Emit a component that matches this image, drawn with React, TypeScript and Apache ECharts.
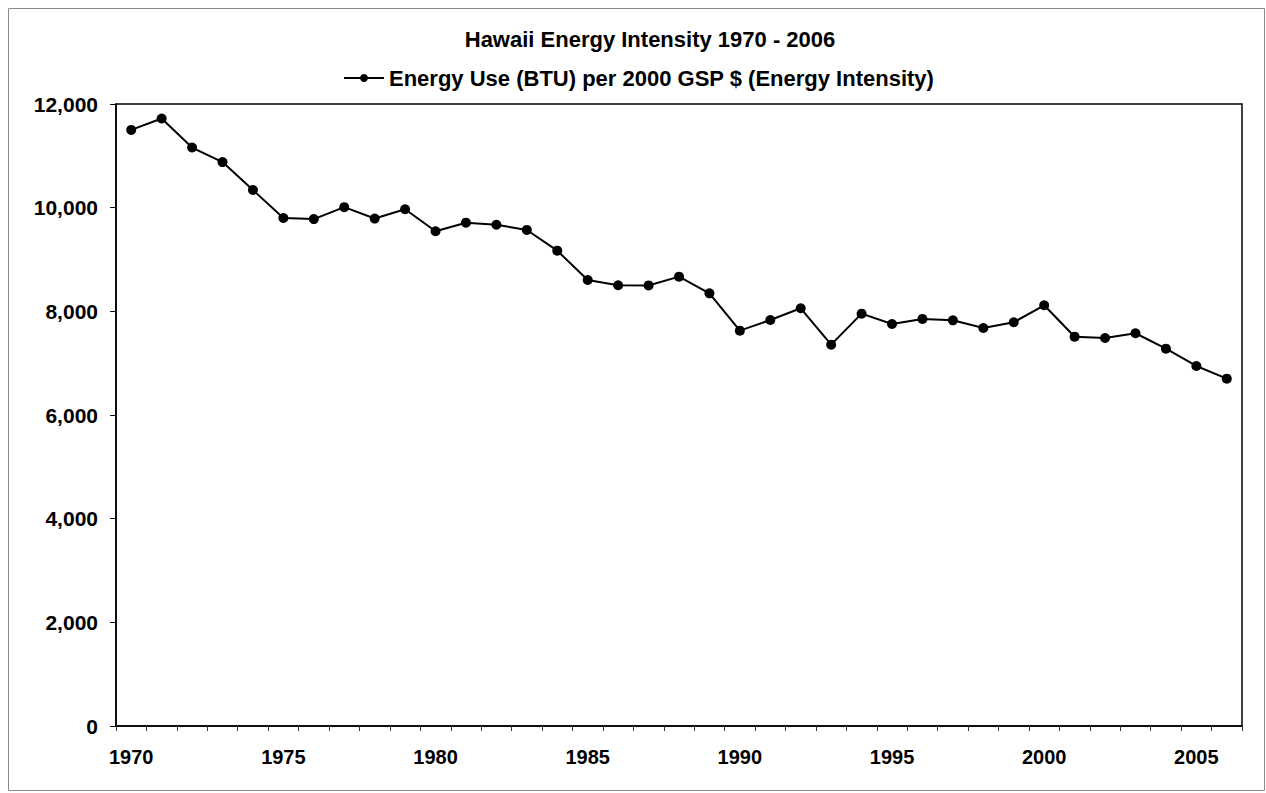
import React, { useEffect, useRef } from "react";
import * as echarts from "echarts";

const years: string[] = [
  "1970", "1971", "1972", "1973", "1974", "1975", "1976", "1977", "1978", "1979",
  "1980", "1981", "1982", "1983", "1984", "1985", "1986", "1987", "1988", "1989",
  "1990", "1991", "1992", "1993", "1994", "1995", "1996", "1997", "1998", "1999",
  "2000", "2001", "2002", "2003", "2004", "2005", "2006",
];

const energyIntensity: number[] = [
  11500, 11720, 11160, 10880, 10340, 9800, 9780, 10010, 9790, 9970,
  9545, 9710, 9670, 9570, 9170, 8605, 8503, 8500, 8669, 8348,
  7627, 7833, 8059, 7357, 7955, 7756, 7853, 7827, 7679, 7789,
  8117, 7511, 7486, 7577, 7280, 6946, 6701,
];

const titleText = "Hawaii Energy Intensity 1970 - 2006";
const seriesName = "Energy Use (BTU) per 2000 GSP $ (Energy Intensity)";

const FONT = "'Liberation Sans', Arial, sans-serif";

export default function App() {
  const ref = useRef<HTMLDivElement>(null);

  useEffect(() => {
    if (!ref.current) return;
    const chart = echarts.init(ref.current, undefined, { renderer: "svg" });
    chart.setOption({
      animation: false,
      backgroundColor: "#ffffff",
      title: {
        text: titleText,
        left: 645,
        top: 23,
        textAlign: "center",
        textStyle: { fontFamily: FONT, fontSize: 22, fontWeight: "bold", color: "#000" },
      },
      legend: {
        left: 338,
        top: 62,
        itemWidth: 40,
        itemHeight: 10,
        itemGap: 4,
        textStyle: { fontFamily: FONT, fontSize: 22, fontWeight: "bold", color: "#000" },
        data: [seriesName],
      },
      graphic: [
        {
          type: "rect",
          shape: { x: 8.5, y: 8.5, width: 1256, height: 782 },
          style: { fill: "none", stroke: "#8a8a8a", lineWidth: 1 },
          silent: true,
          z: -10,
        },
      ],
      grid: {
        left: 116,
        right: 24,
        top: 104,
        bottom: 67,
        show: true,
        borderColor: "#000",
        borderWidth: 1.5,
        backgroundColor: "#fff",
      },
      xAxis: {
        type: "category",
        data: years,
        boundaryGap: true,
        axisLine: { lineStyle: { color: "#000", width: 1.5 } },
        axisTick: {
          show: true,
          interval: 0,
          alignWithLabel: false,
          length: 5,
          lineStyle: { color: "#333", width: 1 },
        },
        axisLabel: {
          interval: 4,
          margin: 21,
          fontFamily: FONT,
          fontSize: 20,
          fontWeight: "bold",
          color: "#000",
        },
        splitLine: { show: false },
      },
      yAxis: {
        type: "value",
        min: 0,
        max: 12000,
        interval: 2000,
        axisLine: { show: true, lineStyle: { color: "#000", width: 1.5 } },
        axisTick: { show: true, length: 6, lineStyle: { color: "#000", width: 1 } },
        axisLabel: {
          margin: 18,
          fontFamily: FONT,
          fontSize: 21,
          fontWeight: "bold",
          color: "#000",
          formatter: (v: number) => v.toLocaleString("en-US"),
        },
        splitLine: { show: false },
      },
      series: [
        {
          name: seriesName,
          type: "line",
          data: energyIntensity,
          symbol: "circle",
          symbolSize: 10,
          showSymbol: true,
          lineStyle: { color: "#000", width: 2 },
          itemStyle: { color: "#000" },
        },
      ],
    });
    return () => chart.dispose();
  }, []);

  return (
    <div
      ref={ref}
      style={{ position: "absolute", left: 0, top: 0, width: 1266, height: 793 }}
    />
  );
}
